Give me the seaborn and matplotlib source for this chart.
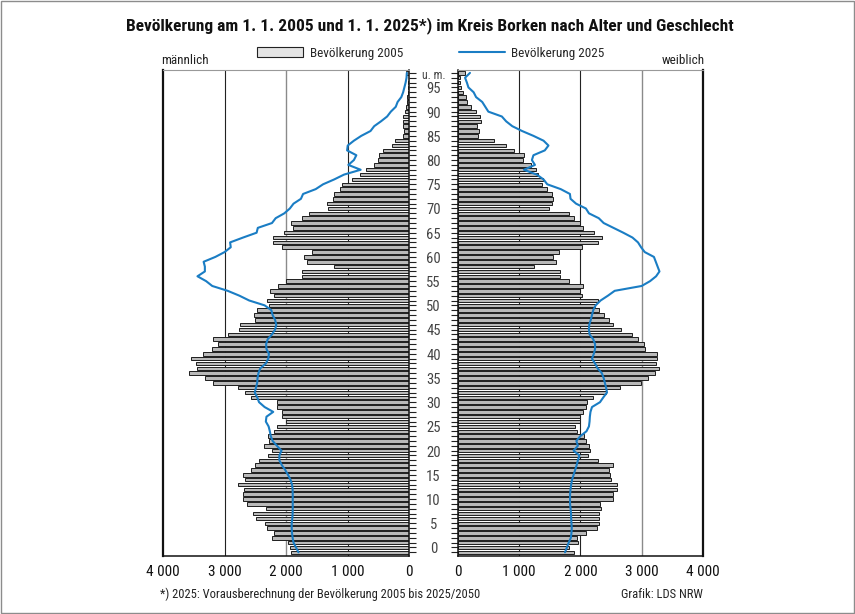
import matplotlib
matplotlib.use("Agg")
import matplotlib.pyplot as plt
import matplotlib.font_manager as fm
import matplotlib.patches as mpatches
import matplotlib.lines as mlines
import matplotlib.transforms as mtransforms
import seaborn as sns
import pandas as pd

# Altersjahre 0 .. 99 (99 = "99 und mehr")
ages = list(range(100))

male_2005 = [1920, 1940, 1965, 2225, 2195, 2315, 2345, 2490, 2545, 2325,
             2640, 2705, 2705, 2680, 2785, 2665, 2705, 2570, 2505, 2435,
             2300, 2235, 2360, 2275, 2290, 2195, 2155, 2005, 2075, 2060,
             2155, 2155, 2570, 2665, 2775, 3180, 3315, 3570, 3440, 3465,
             3540, 3345, 3200, 3110, 3180, 2945, 2760, 2750, 2505, 2530,
             2480, 2275, 2305, 2195, 2270, 2140, 2005, 1740, 1740, 1220,
             1655, 1710, 1580, 2060, 2210, 2220, 2040, 1885, 1920, 1735,
             1625, 1320, 1330, 1235, 1215, 1125, 1085, 925, 800, 700,
             575, 510, 490, 420, 285, 230, 110, 90, 105, 100,
             100, 70, 55, 45, 35, 25, 20, 15, 10, 60]

female_2005 = [1895, 1820, 1955, 1940, 2090, 2265, 2310, 2300, 2310, 2330,
               2320, 2525, 2525, 2605, 2605, 2495, 2485, 2470, 2525, 2280,
               2120, 2160, 2140, 2090, 2065, 1940, 1915, 1995, 1995, 2050,
               2090, 2115, 2200, 2420, 2650, 2985, 3095, 3210, 3275, 3235,
               3245, 3255, 3055, 3040, 2945, 2850, 2665, 2540, 2475, 2390,
               2310, 2240, 2280, 2025, 1995, 2050, 1820, 1670, 1670, 1250,
               1600, 1560, 1660, 2025, 2295, 2350, 2215, 2050, 1995, 1895,
               1820, 1490, 1535, 1550, 1545, 1460, 1380, 1395, 1305, 1270,
               1195, 1060, 1075, 925, 785, 600, 325, 355, 310, 375,
               365, 300, 210, 155, 135, 80, 55, 45, 30, 120]

male_2025 = [1800, 1840, 1880, 1895, 1905, 1910, 1910, 1900, 1895, 1893,
             1893, 1893, 1893, 1895, 1905, 1930, 1970, 2015, 2070, 2110,
             2110, 2075, 2150, 2220, 2250, 2265, 2285, 2330, 2320, 2210,
             2350, 2440, 2470, 2510, 2490, 2470, 2465, 2450, 2420, 2330,
             2290, 2280, 2320, 2325, 2300, 2230, 2180, 2160, 2180, 2220,
             2240, 2350, 2600, 2760, 2950, 3200, 3300, 3440, 3320, 3320,
             3340, 3150, 3000, 2900, 2910, 2700, 2480, 2460, 2230, 2170,
             2030, 1940, 1880, 1760, 1725, 1520, 1400, 1220, 1060, 790,
             990, 900, 860, 1010, 1000, 900, 780, 630, 570, 460,
             360, 300, 220, 190, 130, 100, 80, 60, 45, 40]

female_2025 = [1750, 1780, 1810, 1845, 1855, 1860, 1855, 1850, 1848, 1840,
               1832, 1832, 1832, 1840, 1850, 1865, 1890, 1915, 1940, 1960,
               1985, 1890, 1960, 1935, 2000, 2100, 2140, 2150, 2155, 2165,
               2190, 2320, 2375, 2435, 2420, 2400, 2380, 2350, 2280, 2240,
               2190, 2220, 2240, 2240, 2210, 2150, 2140, 2145, 2170, 2190,
               2210, 2250, 2330, 2450, 2560, 3000, 3137, 3235, 3290, 3260,
               3230, 3200, 3050, 2990, 2940, 2850, 2700, 2540, 2380, 2300,
               2140, 2090, 1930, 1840, 1830, 1680, 1460, 1400, 1290, 1080,
               1260, 1210, 1235, 1420, 1480, 1400, 1235, 1050, 890, 790,
               720, 500, 450, 400, 300, 260, 175, 150, 120, 200]

label_ages = list(range(0, 96, 5))
x_ticks = [0, 1000, 2000, 3000, 4000]
x_ticklabels = ["0", "1 000", "2 000", "3 000", "4 000"]

bar_face = "#b9b9b9"
bar_edge = "#1e1e1e"
line_blue = "#1a7dc4"

sns.set_style("white")
installed = {f.name for f in fm.fontManager.ttflist}
narrow = next((n for n in ["Liberation Sans Narrow", "Roboto Condensed",
                           "Open Sans Condensed", "DejaVu Sans Condensed"]
               if n in installed), "Roboto")
plt.rcParams["font.family"] = [narrow, "DejaVu Sans"]

df = pd.DataFrame({"age": ages, "m05": male_2005, "f05": female_2005,
                   "m25": male_2025, "f25": female_2025})

W, H = 855, 614
fig = plt.figure(figsize=(W / 100, H / 100), dpi=100)
bottom = 1 - 555.7 / H
height = (555.7 - 70) / H
ax_m = fig.add_axes([163 / W, bottom, 246.3 / W, height])
ax_f = fig.add_axes([457.7 / W, bottom, 245.3 / W, height])

for ax, bcol, lcol in [(ax_m, "m05", "m25"), (ax_f, "f05", "f25")]:
    sns.barplot(data=df, x=bcol, y="age", orient="y", native_scale=True,
                width=0.72, color=bar_face, saturation=1,
                edgecolor=bar_edge, linewidth=0.7, ax=ax, zorder=2)
    sns.lineplot(data=df, x=lcol, y="age", sort=False, estimator=None,
                 color=line_blue, lw=1.5, ax=ax, zorder=3)
    ax.set_ylim(-0.7, 99.6)
    ax.set_xlabel("")
    ax.set_ylabel("")
    ax.set_xticks(x_ticks)
    ax.set_xticklabels(x_ticklabels)
    ax.set_yticks(ages)
    ax.set_yticklabels([])
    ax.tick_params(axis="x", direction="out", length=4, width=0.8,
                   labelsize=11, pad=3, colors="#111")
    ax.tick_params(axis="y", direction="out", length=5, width=0.8,
                   colors="#222")
    for s in ax.spines.values():
        s.set_color("#111")
        s.set_linewidth(1.1)
    ax.spines["top"].set_color("#999")
    ax.spines["top"].set_linewidth(0.8)

ax_m.set_xlim(4000, 0)
ax_f.set_xlim(0, 4000)
ax_m.yaxis.tick_right()
ax_f.yaxis.tick_left()
ax_m.spines["left"].set_linewidth(1.6)
ax_f.spines["right"].set_linewidth(1.6)

# Gitterlinien hinter den Balken
for v, c in [(1000, "#222"), (2000, "#8a8a8a"), (3000, "#222")]:
    ax_m.axvline(v, color=c, lw=1.0 if c != "#222" else 0.8, zorder=0)
for v, c in [(1000, "#222"), (2000, "#222"), (3000, "#8a8a8a")]:
    ax_f.axvline(v, color=c, lw=1.0 if c != "#222" else 0.8, zorder=0)

# Altersbeschriftung zwischen den Pyramidenhälften
trans = mtransforms.blended_transform_factory(fig.transFigure, ax_f.transData)
for a in label_ages:
    fig.text(433.5 / W, a + 0.6, str(a), transform=trans, ha="center",
             va="center", fontsize=10.5, color="#444")
fig.text(433.5 / W, 98.5, "u. m.", transform=trans, ha="center",
         va="center", fontsize=8.5, color="#444")

fig.text(0.503, 1 - 26 / H,
         "Bevölkerung am 1. 1. 2005 und 1. 1. 2025*) im Kreis Borken nach Alter und Geschlecht",
         ha="center", va="center", fontsize=12.5, weight="bold", color="#111")
fig.text(185 / W, 1 - 60 / H, "männlich", ha="center", va="center",
         fontsize=9.5, color="#222")
fig.text(683 / W, 1 - 60 / H, "weiblich", ha="center", va="center",
         fontsize=9.5, color="#222")

h05 = mpatches.Patch(facecolor="#e4e4e4", edgecolor="#222", linewidth=0.8,
                     label="Bevölkerung 2005")
h25 = mlines.Line2D([], [], color=line_blue, lw=1.5, label="Bevölkerung 2025")
fig.legend(handles=[h05, h25], loc="center", bbox_to_anchor=(431 / W, 1 - 53 / H),
           ncol=2, frameon=False, fontsize=9.5, handlelength=3.5,
           handleheight=0.7, handletextpad=0.5, columnspacing=4.2)

fig.text(160 / W, 1 - 594 / H,
         "*) 2025: Vorausberechnung der Bevölkerung 2005 bis 2025/2050",
         ha="left", va="center", fontsize=9, color="#222")
fig.text(703 / W, 1 - 594 / H, "Grafik: LDS NRW", ha="right", va="center",
         fontsize=9, color="#222")

fig.patches.append(mpatches.Rectangle((0.001, 0.001), 0.998, 0.997,
                                      transform=fig.transFigure, fill=False,
                                      edgecolor="#8c8c8c", lw=1.0))

fig.savefig("out.png", dpi=100)
